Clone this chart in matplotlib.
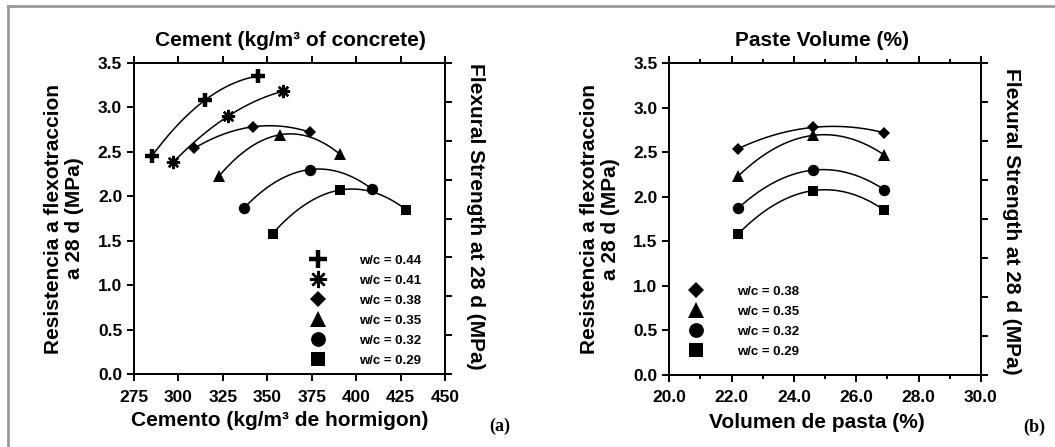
import numpy as np
import matplotlib
matplotlib.use('Agg')
import matplotlib.pyplot as plt
from matplotlib.lines import Line2D

# ---------------- data ----------------
wc_labels = ['w/c = 0.44', 'w/c = 0.41', 'w/c = 0.38', 'w/c = 0.35', 'w/c = 0.32', 'w/c = 0.29']

cement_044 = [285, 315, 345]
cement_041 = [297, 328, 359]
cement_038 = [309, 342, 374]
cement_035 = [323, 357, 391]
cement_032 = [337, 374, 409]
cement_029 = [353, 391, 428]

strength_044 = [2.45, 3.08, 3.35]
strength_041 = [2.38, 2.90, 3.18]
strength_038 = [2.54, 2.78, 2.72]
strength_035 = [2.23, 2.69, 2.47]
strength_032 = [1.87, 2.30, 2.08]
strength_029 = [1.58, 2.07, 1.85]

paste_volume = [22.2, 24.6, 26.9]

x_ticks_a = [275, 300, 325, 350, 375, 400, 425, 450]
x_ticks_b = [20.0, 22.0, 24.0, 26.0, 28.0, 30.0]
y_ticks = [0.0, 0.5, 1.0, 1.5, 2.0, 2.5, 3.0, 3.5]

# ---------------- style ----------------
W, H = 1055, 447
FONT = 'Liberation Sans'
plt.rcParams['font.family'] = [FONT, 'DejaVu Sans']
plt.rcParams['font.weight'] = 'bold'

styles = {
    'w/c = 0.44': dict(marker='+', ms=9.5, mew=3.2),
    'w/c = 0.41': dict(marker=(8, 2, 0), ms=9.5, mew=1.7),
    'w/c = 0.38': dict(marker='D', ms=6.3, mew=0),
    'w/c = 0.35': dict(marker='^', ms=8.8, mew=0),
    'w/c = 0.32': dict(marker='o', ms=8.2, mew=0),
    'w/c = 0.29': dict(marker='s', ms=7.6, mew=0),
}

fig = plt.figure(figsize=(W / 100, H / 100), dpi=100)


def fx(px):
    return px / W


def fy(py):
    return 1 - py / H


def style_axes(ax, xt, xlim, minor_x=None):
    ax.set_xlim(*xlim)
    ax.set_ylim(0, 3.5)
    ax.set_xticks(xt)
    if minor_x is not None:
        ax.set_xticks(minor_x, minor=True)
    ax.set_yticks(y_ticks)
    ax.set_yticklabels([f'{v:.1f}' for v in y_ticks])
    for s in ax.spines.values():
        s.set_linewidth(1.4)
    ax.tick_params(axis='both', which='major', direction='out', length=5, width=1.4,
                   labelsize=12.5)
    ax.tick_params(axis='both', which='minor', direction='out', length=3, width=1.4)
    ax.tick_params(axis='x', which='both', top=True, pad=6)
    ax.tick_params(axis='y', pad=3.5)
    for lab in ax.get_xticklabels() + ax.get_yticklabels():
        lab.set_fontweight('bold')
    tw = ax.twinx()
    tw.set_ylim(0, 8)
    tw.set_yticks(range(9))
    tw.set_yticklabels([])
    tw.tick_params(axis='y', direction='out', length=5, width=1.4)
    for s in tw.spines.values():
        s.set_linewidth(1.4)
    return tw


def draw_series(ax, x, y, lab):
    x = np.asarray(x, float)
    y = np.asarray(y, float)
    c = np.polyfit(x, y, 2)
    xx = np.linspace(x.min(), x.max(), 200)
    ax.plot(xx, np.polyval(c, xx), color='black', lw=1.1, zorder=2)
    ax.plot(x, y, linestyle='none', color='black', zorder=3, **styles[lab])


def add_legend(ax, labels, left_px, top_px):
    handles = [Line2D([], [], linestyle='none', color='black', **styles[l]) for l in labels]
    leg = ax.legend(handles, labels, loc='upper left',
                    bbox_to_anchor=(fx(left_px), fy(top_px)), bbox_transform=fig.transFigure,
                    frameon=False, borderpad=0, borderaxespad=0, handlelength=1.2,
                    handletextpad=2.5, labelspacing=0.59, markerscale=1.3,
                    prop={'family': FONT, 'weight': 'bold', 'size': 9.5})
    return leg


# ---------------- panel (a) ----------------
ax_a = fig.add_axes([fx(134), fy(374.3), fx(445) - fx(134), fy(62.7) - fy(374.3)])
style_axes(ax_a, x_ticks_a, (275, 450))
series_a = [
    (cement_044, strength_044, wc_labels[0]),
    (cement_041, strength_041, wc_labels[1]),
    (cement_038, strength_038, wc_labels[2]),
    (cement_035, strength_035, wc_labels[3]),
    (cement_032, strength_032, wc_labels[4]),
    (cement_029, strength_029, wc_labels[5]),
]
for x, y, lab in series_a:
    draw_series(ax_a, x, y, lab)
add_legend(ax_a, wc_labels, 310.5, 254.5)

# ---------------- panel (b) ----------------
ax_b = fig.add_axes([fx(669.3), fy(375), fx(981) - fx(669.3), fy(63.3) - fy(375)])
style_axes(ax_b, x_ticks_b, (20, 30), minor_x=[21, 23, 25, 27, 29])
series_b = [
    (paste_volume, strength_038, wc_labels[2]),
    (paste_volume, strength_035, wc_labels[3]),
    (paste_volume, strength_032, wc_labels[4]),
    (paste_volume, strength_029, wc_labels[5]),
]
for x, y, lab in series_b:
    draw_series(ax_b, x, y, lab)
ax_b.set_xticklabels([f'{v:.1f}' for v in x_ticks_b])
for lab in ax_b.get_xticklabels():
    lab.set_fontweight('bold')
add_legend(ax_b, wc_labels[2:], 687.8, 285.5)

# ---------------- texts ----------------
LBL = 15
fig.text(fx(290), fy(40), 'Cement (kg/m³ of concrete)', ha='center', va='center',
         fontsize=LBL, fontweight='bold')
fig.text(fx(822), fy(41), 'Paste Volume (%)', ha='center', va='center',
         fontsize=LBL, fontweight='bold')
fig.text(fx(280), fy(421), 'Cemento (kg/m³ de hormigon)', ha='center', va='center',
         fontsize=LBL, fontweight='bold')
fig.text(fx(817), fy(423), 'Volumen de pasta (%)', ha='center', va='center',
         fontsize=LBL, fontweight='bold')
ylab = 'Resistencia a flexotraccion\na 28 d (MPa)'
fig.text(fx(64), fy(218.5), ylab, ha='center', va='center', rotation=90,
         fontsize=LBL, fontweight='bold', linespacing=1.1, multialignment='center')
fig.text(fx(600), fy(219), ylab, ha='center', va='center', rotation=90,
         fontsize=LBL, fontweight='bold', linespacing=1.1, multialignment='center')
rlab = 'Flexural Strength at 28 d (MPa)'
fig.text(fx(476), fy(216.5), rlab, ha='center', va='center', rotation=270,
         fontsize=LBL, fontweight='bold')
fig.text(fx(1012), fy(221), rlab, ha='center', va='center', rotation=270,
         fontsize=LBL, fontweight='bold')
fig.text(fx(500), fy(426), '(a)', ha='center', va='center', fontsize=13,
         fontweight='bold', family=['Liberation Serif', 'DejaVu Serif'])
fig.text(fx(1034), fy(427), '(b)', ha='center', va='center', fontsize=13,
         fontweight='bold', family=['Liberation Serif', 'DejaVu Serif'])

# ---------------- frame (top + left border) ----------------
fig.add_artist(Line2D([fx(8), 1.0], [fy(6), fy(6)], transform=fig.transFigure,
                      color='#999999', lw=2.0))
fig.add_artist(Line2D([fx(8), fx(8)], [fy(6), 0.0], transform=fig.transFigure,
                      color='#999999', lw=2.0))

fig.savefig('out.png', dpi=100)
